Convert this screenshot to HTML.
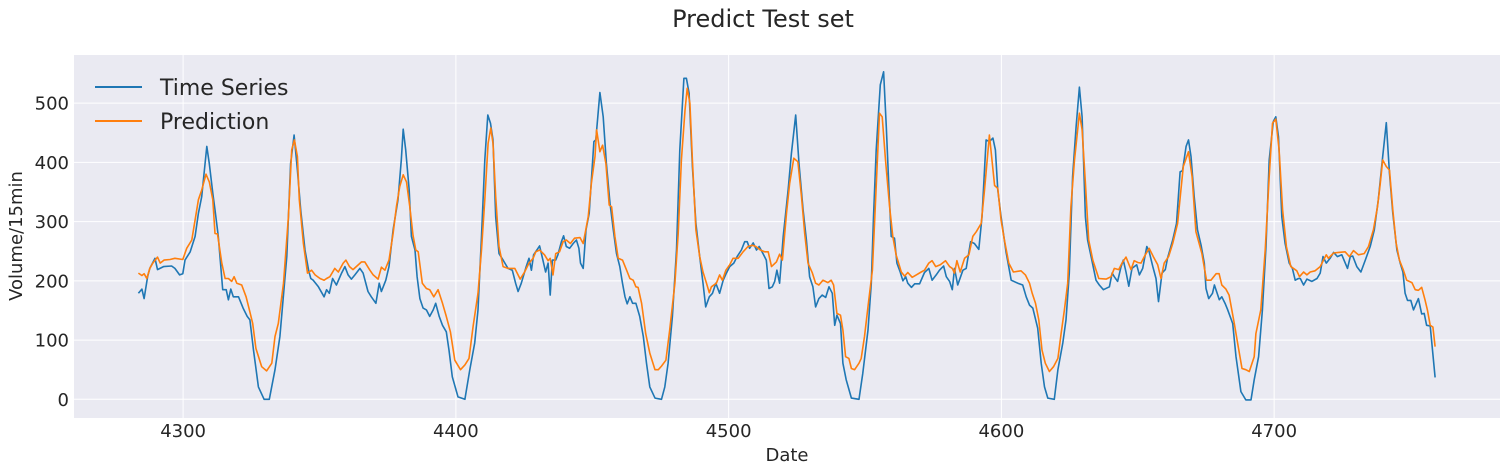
<!DOCTYPE html>
<html><head><meta charset="utf-8"><style>
html,body{margin:0;padding:0;background:#fff;}
svg{display:block;font-family:"DejaVu Sans","Liberation Sans",sans-serif;}
</style></head><body>
<svg id="chart" width="1507" height="472" viewBox="0 0 1507 472" xmlns="http://www.w3.org/2000/svg">
<text x="763" y="27" font-size="24" fill="#262626" text-anchor="middle">Predict Test set</text>
<rect x="74" y="55" width="1426" height="363" fill="#eaeaf2"/>
<g id="grid"></g>
<g id="series"></g>
<g id="ticks"></g>
<text x="787" y="461" font-size="18" fill="#262626" text-anchor="middle">Date</text>
<text transform="translate(22,236) rotate(-90)" font-size="18" fill="#262626" text-anchor="middle">Volume/15min</text>
<g>
<line x1="95" y1="87" x2="142" y2="87" stroke="#1f77b4" stroke-width="2"/>
<text x="160" y="95" font-size="22" fill="#262626">Time Series</text>
<line x1="95" y1="121" x2="142" y2="121" stroke="#ff7f0e" stroke-width="2"/>
<text x="160" y="129" font-size="22" fill="#262626">Prediction</text>
</g>
</svg>
<script>
const xTicks = [4300, 4400, 4500, 4600, 4700];
const yTicks = [0, 100, 200, 300, 400, 500];
const tsDates = [4283.6,4284.9,4285.7,4287,4287.8,4289.7,4290.6,4292.8,4295.8,4297,4298.7,4299.9,4300.7,4302.6,4304.4,4305.6,4306.8,4308.7,4309.6,4310.9,4311.7,4312.9,4314.5,4315.8,4316.6,4317.5,4318.4,4320.3,4322,4323.5,4324.5,4325.8,4327.6,4329.7,4331.6,4333.7,4335.5,4338,4339.4,4340.7,4341.9,4343.1,4344.7,4346,4346.8,4347.7,4349.6,4351.7,4352.6,4353.6,4354.8,4356.2,4358.1,4359.3,4360.5,4361.7,4363,4364.8,4366,4367.8,4369,4370.7,4371.9,4372.7,4374.3,4375.5,4377,4378.8,4380,4380.7,4381.6,4382.9,4383.7,4385,4385.8,4386.8,4388,4389.2,4390.4,4391.7,4392.6,4393.9,4395.1,4396.5,4397.5,4398.7,4400.8,4403.3,4405.1,4406.9,4408.1,4409.4,4410.6,4411.7,4412.7,4413.6,4414.6,4415.8,4417.3,4419.1,4420.7,4421.9,4422.8,4424,4425.8,4426.8,4427.7,4428.5,4430.1,4430.7,4431.9,4432.9,4433.8,4434.6,4435.4,4436.6,4437.4,4438.7,4439.5,4440.5,4441.7,4443,4444.2,4445.1,4445.7,4446.7,4447.7,4448.9,4450.6,4451.3,4452.8,4454,4455.2,4456.5,4457.7,4458.9,4460.1,4461.1,4462,4462.8,4463.8,4464.8,4466,4467.4,4468.7,4469.9,4471.1,4473,4475.4,4476.6,4477.8,4479.4,4480.9,4482.1,4483.6,4484.5,4485.5,4486.7,4488,4489.4,4490.6,4491.6,4492.9,4494.1,4495.3,4496.7,4498,4499.2,4500.4,4501.9,4503.1,4504.7,4505.9,4506.8,4507.7,4509,4510.2,4511.2,4512.6,4513.8,4514.8,4516,4516.9,4517.7,4518.7,4520,4521.8,4523,4524.6,4525.8,4527.3,4528.5,4529.7,4530.9,4531.9,4533.1,4534.3,4535.6,4536.8,4538,4538.9,4539.7,4541,4541.9,4543.1,4545,4547.8,4549.2,4551.1,4552.3,4553.1,4554.1,4555.6,4556.8,4557.8,4558.8,4559.6,4560.8,4561.7,4562.9,4563.9,4564.9,4565.7,4567,4568.2,4570,4571.8,4573.4,4574.6,4576.1,4577.3,4578.8,4579.8,4581,4582,4582.8,4584,4585.9,4587.1,4588.7,4590.1,4591.7,4592.9,4594.4,4595.6,4596.9,4597.8,4598.7,4599.9,4601.7,4603.6,4606,4607.8,4609.1,4610.3,4611.5,4613.3,4614.6,4615.8,4617,4619.4,4620.7,4622.5,4623.7,4624.9,4626.1,4627.4,4628.6,4629.6,4630.8,4631.6,4632.9,4634.7,4635.9,4637.4,4639.6,4640.6,4641.4,4642.6,4643.9,4644.7,4645.7,4646.7,4647.9,4649.6,4650.6,4651.8,4653.3,4654.2,4655.5,4656.7,4657.6,4658.9,4660.1,4660.9,4662.8,4664.2,4665.5,4666.4,4667.7,4668.6,4669.5,4670.7,4671.9,4673.2,4674.4,4675,4676,4677.4,4678.1,4679.9,4680.8,4682.1,4682.9,4684.8,4686,4687.8,4689.6,4691.5,4692.7,4694.3,4695.7,4697,4698.2,4699.7,4700.6,4701.6,4702.8,4704,4705.5,4706.7,4707.7,4708.9,4709.6,4710.8,4712,4713.8,4715.7,4716.9,4717.9,4719.1,4720.5,4721.8,4723.2,4724.8,4726.9,4727.9,4728.8,4730.3,4731.8,4733.4,4735.2,4736.7,4738.2,4739.8,4741.1,4742.3,4743.5,4745,4746.2,4747.2,4748,4748.9,4750.1,4751.1,4752.9,4754.1,4755,4755.9,4757.2,4759];
const tsValues = [179,186,170,207,221,238,219,224,225,221,210,212,235,249,275,314,342,427,398,348,320,275,185,185,168,186,173,173,154,140,134,83,21,0,0,50,106,241,398,446,387,320,252,218,204,201,190,173,185,179,204,193,213,224,210,203,210,221,213,182,173,162,196,182,201,224,286,337,404,456,421,353,275,252,207,170,154,151,140,151,162,140,125,114,83,38,4,0,50,95,151,275,404,480,466,438,308,246,235,221,218,196,182,196,224,238,218,244,255,259,235,215,230,176,235,235,244,266,276,258,255,263,269,255,230,221,286,314,435,438,518,477,398,331,286,246,224,196,173,161,173,162,162,140,106,61,21,2,0,21,61,140,252,421,542,542,517,393,297,241,196,156,173,179,196,179,201,213,224,230,241,252,266,266,255,264,252,258,246,235,187,190,199,218,196,275,353,415,480,398,320,269,207,190,156,170,176,172,190,179,125,142,128,61,33,2,0,44,117,196,308,421,531,553,460,353,275,272,230,215,200,207,196,189,195,195,214,221,201,210,218,225,207,199,185,221,193,218,221,266,263,253,308,438,435,441,421,353,308,249,201,196,193,173,159,154,120,61,21,2,0,50,95,134,213,376,460,527,477,308,269,241,201,193,185,190,213,207,199,224,235,215,191,221,227,210,221,258,249,224,204,165,213,219,238,269,297,384,386,427,438,410,342,286,260,230,187,170,179,193,168,173,161,152,128,72,13,-1,-1,33,72,151,258,404,469,477,443,308,263,230,221,201,204,204,193,203,199,204,213,241,230,238,248,241,244,221,241,242,224,215,235,258,286,337,410,467,381,314,252,230,215,179,167,167,151,170,144,145,125,124,37];
const predDates = [4283.6,4284.9,4285.7,4286.7,4287.8,4288.9,4290.6,4291.6,4293,4295.2,4297,4299.9,4301.3,4303.2,4305.6,4306.8,4308.4,4309.6,4310.9,4311.7,4312.6,4314.2,4315.4,4316.6,4317.8,4318.7,4319.7,4321.5,4323.1,4324.3,4325.5,4326.7,4328.8,4330.6,4332.5,4333.7,4334.9,4336.8,4338.6,4339.8,4340.8,4341.9,4342.6,4344.1,4345.6,4347.1,4348.4,4350.2,4351.7,4352.6,4353.8,4355.6,4356.9,4358.7,4359.7,4361,4362.3,4363.5,4365.4,4366.6,4368.5,4369.7,4371.5,4372.7,4374,4375.5,4377,4378.2,4379.4,4380.7,4381.9,4383.1,4384.3,4385.3,4386.2,4387.7,4389.2,4390.4,4391.9,4393.5,4395.1,4396.5,4398,4399.6,4401.7,4403.3,4404.8,4406.3,4408.1,4409.4,4410.6,4411.8,4412.8,4413.6,4414.6,4415.8,4417.3,4419.1,4421.6,4423.6,4425.2,4426.8,4428.3,4429.3,4430.7,4432.5,4433.8,4434.6,4435.6,4436.6,4438,4439.3,4440.5,4442,4443.5,4445.5,4446.7,4448.5,4449.7,4451,4451.6,4452.8,4453.8,4455,4456.2,4457.1,4458.3,4459.5,4461.1,4462.6,4463.8,4465,4466,4466.8,4468.1,4469.6,4471.1,4473,4474.2,4475.4,4477,4478.4,4480.3,4481.5,4482.7,4484,4484.8,4485.8,4486.7,4488,4489.4,4490.6,4491.9,4492.9,4493.7,4495.5,4496.7,4497.7,4499,4500.4,4501.6,4503.5,4505.3,4507.1,4508.7,4510,4511.6,4513.2,4514.5,4515.7,4517.5,4518.7,4519.7,4521.2,4522.4,4523.9,4525.4,4526.7,4527.9,4529.1,4530.7,4531.9,4533.1,4534.6,4536.4,4537.6,4538.5,4539.7,4541,4541.9,4542.9,4544.1,4545,4546.2,4547.8,4548.6,4549.8,4551.4,4552.7,4553.9,4555.3,4556.3,4557.5,4559,4560.2,4561.4,4563.3,4564.5,4565.7,4567.3,4568.8,4570.6,4571.8,4573.4,4574.6,4575.9,4577.6,4579.5,4581,4582,4582.8,4583.7,4584.9,4586.5,4588.1,4589.5,4590.8,4592.6,4593.8,4595.6,4597.5,4598.7,4599.9,4601.1,4602.7,4604.4,4607.2,4608.8,4610.3,4611.3,4612.5,4613.7,4614.9,4616.1,4617.6,4619.1,4620.7,4621.9,4623.1,4624.3,4625.5,4626.8,4628.6,4629.6,4630.8,4632,4633.5,4635.7,4638.4,4640.2,4641.4,4643,4644.2,4645.7,4647.5,4648.7,4650,4651.2,4652.4,4654.2,4655.7,4657.3,4658.5,4659.7,4661.3,4662.8,4664.6,4665.8,4666.7,4668.6,4669.9,4671.3,4673.5,4675.2,4676.8,4678.7,4679.8,4680.8,4682.3,4683.5,4685.4,4686.6,4688.2,4689.6,4690.9,4692.7,4693.3,4695.1,4696.7,4698.2,4699.4,4700.6,4701.8,4703.1,4704.5,4706.1,4707.1,4708.3,4709.3,4710.8,4712,4713.2,4715,4716.9,4718.1,4719.1,4719.9,4721.8,4723.6,4726,4727.6,4729.1,4730.9,4733,4734.6,4736.4,4737.9,4738.9,4739.8,4741.1,4742.3,4743.5,4744.7,4745.9,4747.4,4748.6,4750.5,4751.7,4752.9,4754.1,4755.3,4756.2,4757.2,4758.2,4759];
const predValues = [213,209,212,204,221,230,240,230,235,236,238,236,255,269,337,353,380,367,337,280,279,230,204,204,199,207,196,193,173,151,128,86,55,48,61,106,128,196,308,421,438,410,337,263,213,218,210,204,201,204,207,221,215,230,235,224,219,224,232,232,218,210,203,223,218,235,280,325,359,379,367,325,277,252,249,196,187,185,173,185,162,140,114,66,50,58,69,123,179,252,337,432,458,432,342,258,224,221,221,203,215,230,238,249,252,244,234,238,210,246,249,266,269,263,272,273,263,308,365,410,455,418,429,398,328,325,275,238,235,218,204,201,190,189,162,111,78,50,50,56,66,117,196,280,404,488,525,500,404,286,241,215,196,180,190,196,210,201,218,227,238,238,249,258,260,258,252,249,249,224,232,245,235,314,365,407,401,342,280,230,213,196,193,201,197,201,193,145,142,117,72,69,52,50,61,69,106,168,218,337,483,477,404,325,275,244,215,208,214,206,210,215,218,230,234,224,227,234,224,221,213,234,215,238,244,275,283,297,353,446,361,356,302,269,230,215,217,210,196,179,162,134,83,61,47,55,69,111,151,196,325,404,483,455,365,269,235,204,203,207,221,219,230,240,219,234,231,230,241,255,241,227,204,230,241,263,297,353,393,418,376,283,246,201,201,212,212,193,186,176,128,95,52,50,47,72,111,151,252,376,466,473,421,320,258,224,221,217,207,215,210,215,217,224,235,244,238,247,248,249,241,251,244,246,258,286,325,365,404,393,387,320,264,235,218,201,197,185,184,189,168,151,125,122,89];

const NS = 'http://www.w3.org/2000/svg';
const X0 = 74, X1 = 1500, Y0 = 55, Y1 = 418;
const xMin = 4260, xMax = 4782.8;
function xs(v){ return X0 + (v - xMin) / (xMax - xMin) * (X1 - X0); }
function ys(v){ return 399.3 - v * 0.5923; }

const grid = document.getElementById('grid');
const ticks = document.getElementById('ticks');
xTicks.forEach(t => {
  const l = document.createElementNS(NS, 'line');
  
  
  l.setAttribute('x1', xs(t)); l.setAttribute('x2', xs(t));
  l.setAttribute('y1', Y0); l.setAttribute('y2', Y1);
  l.setAttribute('stroke', '#fff'); l.setAttribute('stroke-width', '1');
  grid.appendChild(l);
  const tx = document.createElementNS(NS, 'text');
  
  
  tx.setAttribute('x', xs(t)); tx.setAttribute('y', 437);
  tx.setAttribute('font-size', '18'); tx.setAttribute('fill', '#262626');
  tx.setAttribute('text-anchor', 'middle');
  tx.textContent = t;
  ticks.appendChild(tx);
});
yTicks.forEach(t => {
  const l = document.createElementNS(NS, 'line');
  
  
  l.setAttribute('x1', X0); l.setAttribute('x2', X1);
  l.setAttribute('y1', ys(t)); l.setAttribute('y2', ys(t));
  l.setAttribute('stroke', '#fff'); l.setAttribute('stroke-width', '1');
  grid.appendChild(l);
  const tx = document.createElementNS(NS, 'text');
  
  
  tx.setAttribute('x', 69); tx.setAttribute('y', ys(t) + 6.5);
  tx.setAttribute('font-size', '18'); tx.setAttribute('fill', '#262626');
  tx.setAttribute('text-anchor', 'end');
  tx.textContent = t;
  ticks.appendChild(tx);
});

const series = document.getElementById('series');
function drawLine(dates, vals, color, name){
  const p = document.createElementNS(NS, 'polyline');
  
  
  p.setAttribute('points', dates.map((d, i) => xs(d).toFixed(1) + ',' + ys(vals[i]).toFixed(1)).join(' '));
  p.setAttribute('fill', 'none'); p.setAttribute('stroke', color);
  p.setAttribute('stroke-width', '1.6'); p.setAttribute('stroke-linejoin', 'round');
  series.appendChild(p);
}
drawLine(tsDates, tsValues, '#1f77b4', 'time-series-line');
drawLine(predDates, predValues, '#ff7f0e', 'prediction-line');
</script>
</body></html>
